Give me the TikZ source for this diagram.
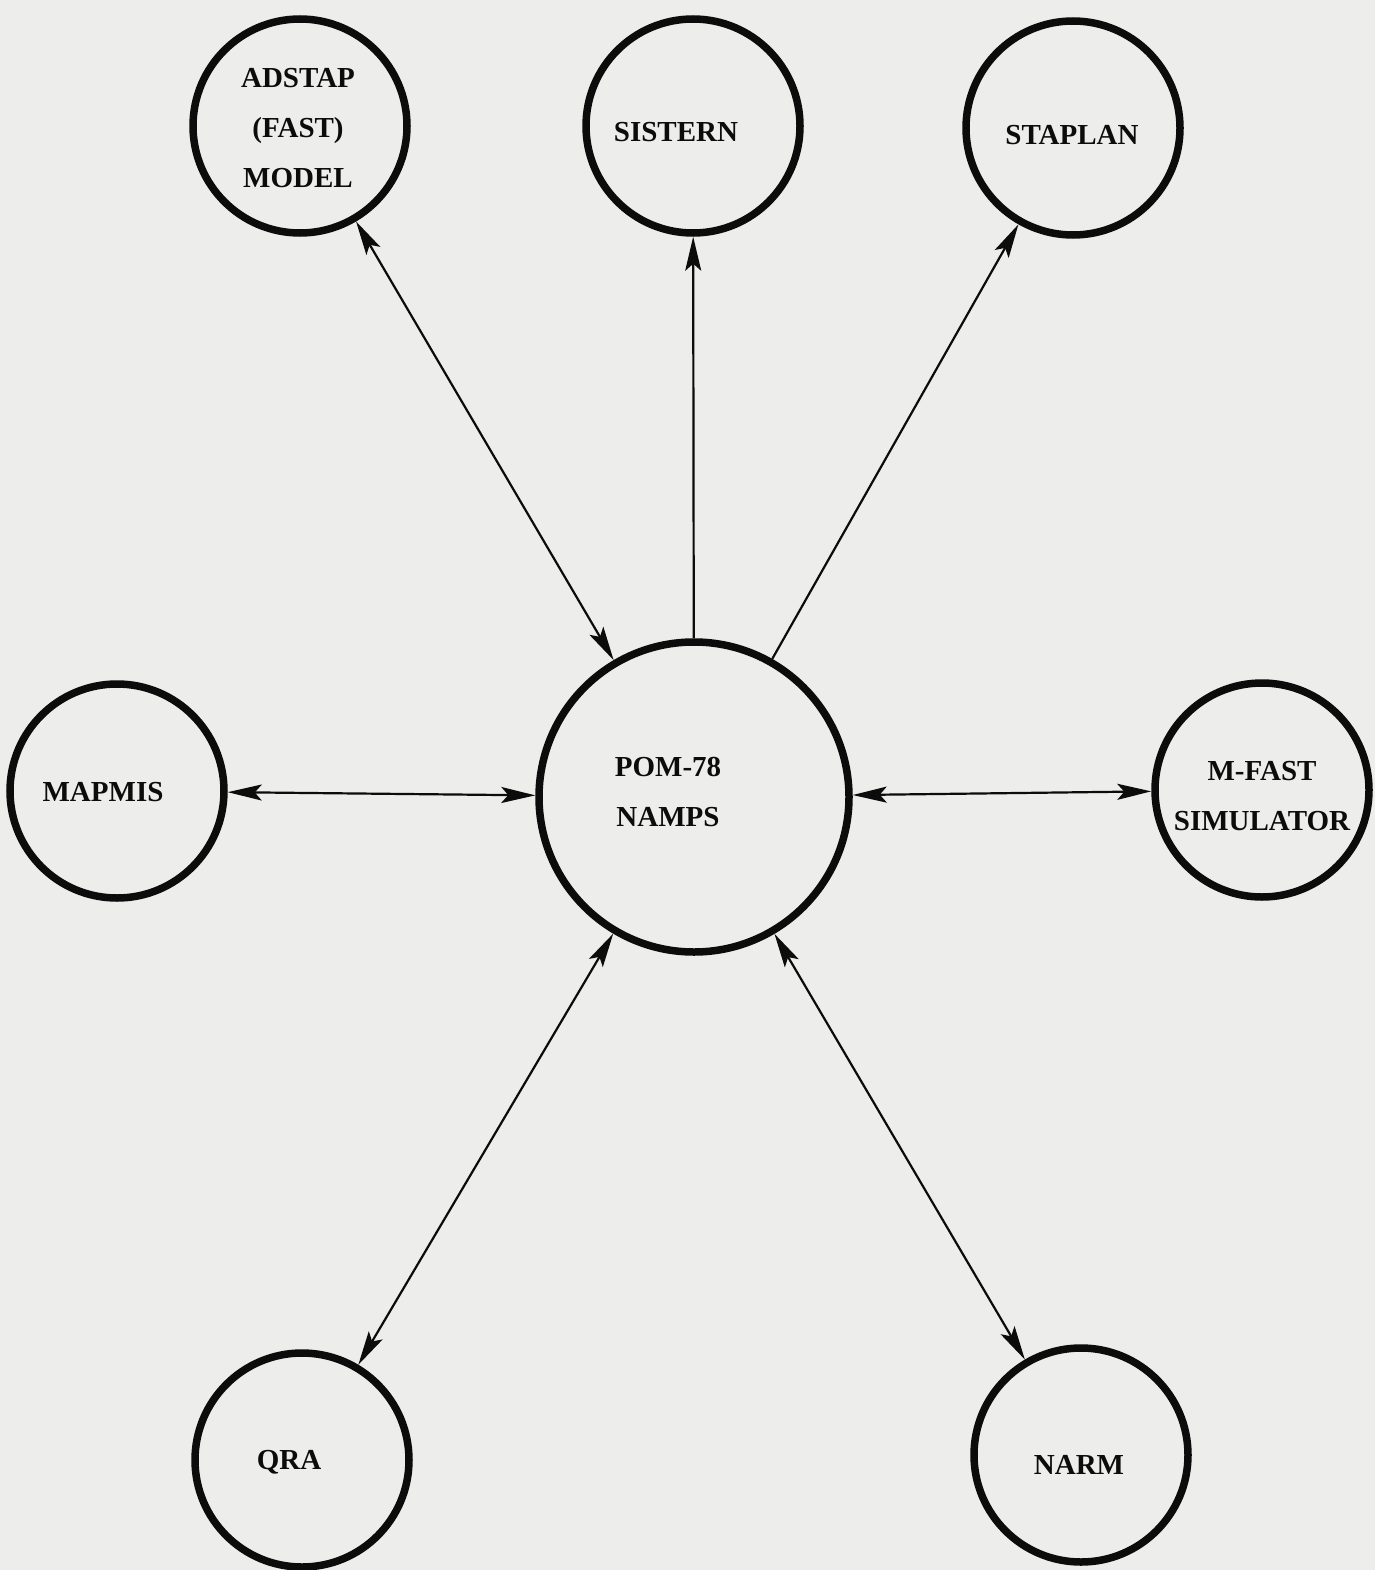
\documentclass[tikz,border=0pt]{standalone}
\usepackage{fontspec}
\setmainfont{Liberation Serif}
\usetikzlibrary{arrows.meta}
\definecolor{paper}{RGB}{237,237,235}
\definecolor{ink}{RGB}{12,12,12}
\tikzset{
  circ/.style={circle, draw=ink, line width=7.5pt, fill=none, inner sep=0pt},
  lbl/.style={align=center, text=ink, font=\bfseries\fontsize{29}{50}\selectfont, inner sep=0pt},
  conn/.style={draw=ink, line width=2.2pt, >={Stealth[length=34pt,width=16pt,inset=7pt]}}
}
\begin{document}
\begin{tikzpicture}[x=1pt,y=-1pt]
\useasboundingbox (0,0) rectangle (1375,1570);
\fill[paper] (0,0) rectangle (1375,1570);
% circles
\node[circ, minimum size=214pt] (adstap) at (300,126) {};
\node[circ, minimum size=214pt] (sistern) at (693,126) {};
\node[circ, minimum size=214pt] (staplan) at (1073,128) {};
\node[circ, minimum size=214pt] (mapmis) at (117,791) {};
\node[circ, minimum size=310pt] (pom) at (694,797) {};
\node[circ, minimum size=214pt] (mfast) at (1262,790) {};
\node[circ, minimum size=214pt] (qra) at (302,1460) {};
\node[circ, minimum size=214pt] (narm) at (1081,1455) {};
% labels
\node[lbl] (adstapT) at (298,128) {ADSTAP\\(FAST)\\MODEL};
\node[lbl] (sisternT) at (676,132) {SISTERN};
\node[lbl] (staplanT) at (1072,135) {STAPLAN};
\node[lbl] (mapmisT) at (103,792) {MAPMIS};
\node[lbl] (pomT) at (668,792) {POM-78\\NAMPS};
\node[lbl] (mfastT) at (1262,796) {M-FAST\\SIMULATOR};
\node[lbl] (qraT) at (289,1462) {QRA};
\node[lbl] (narmT) at (1079,1465) {NARM};
% connectors
\draw[conn, <->] (pom) -- (adstap);
\draw[conn, ->] (pom) -- (sistern);
\draw[conn, ->] (pom) -- (staplan);
\draw[conn, <->] (pom) -- (mapmis);
\draw[conn, <->] (pom) -- (mfast);
\draw[conn, <->] (pom) -- (qra);
\draw[conn, <->] (pom) -- (narm);
\end{tikzpicture}
\end{document}
